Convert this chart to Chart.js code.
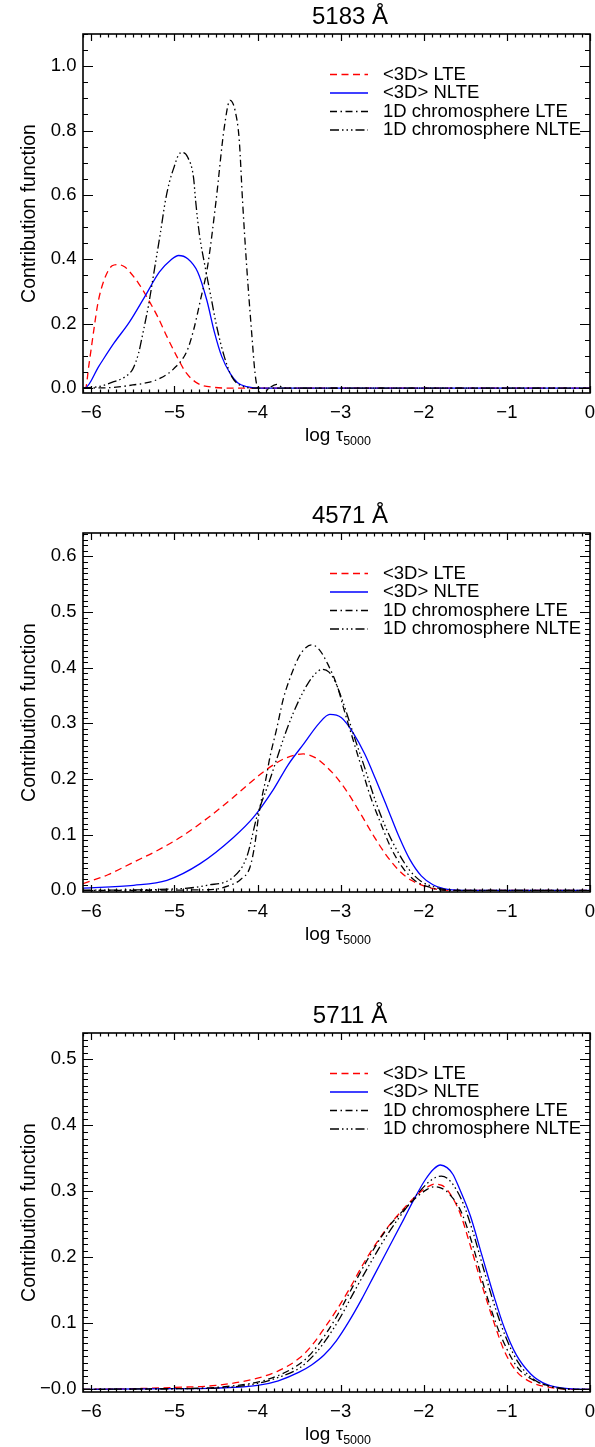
<!DOCTYPE html>
<html>
<head>
<meta charset="utf-8">
<script src="https://cdn.jsdelivr.net/npm/chart.js@4.4.0/dist/chart.umd.min.js"></script>
<style>
  body { margin: 0; background: #fff; }
  #wrap { position: relative; width: 595px; height: 1447px; }
  #wrap canvas { position: absolute; left: 0; }
</style>
</head>
<body>
<div id="wrap">
  <canvas id="c5183" width="595" height="448" style="top:0px"></canvas>
  <canvas id="c4571" width="595" height="448" style="top:499px"></canvas>
  <canvas id="c5711" width="595" height="448" style="top:999px"></canvas>
</div>
<script>
const seriesNames = ['<3D> LTE', '<3D> NLTE', '1D chromosphere LTE', '1D chromosphere NLTE'];
const xTicks = [-6, -5, -4, -3, -2, -1, 0];

// ---- 5183 A ----
const lte3dX_5183 = [-6.1, -6.07, -6.03, -5.97, -5.92, -5.84, -5.75, -5.68, -5.6, -5.54, -5.43, -5.32, -5.2, -5.09, -4.97, -4.86, -4.72, -4.54, -4.27, 0];
const lte3dY_5183 = [0, 0, 0.07, 0.18, 0.265, 0.34, 0.38, 0.384, 0.377, 0.362, 0.325, 0.278, 0.221, 0.16, 0.098, 0.048, 0.015, 0.003, 0, 0];
const nlte3dX_5183 = [-6.1, -6.08, -5.91, -5.73, -5.54, -5.36, -5.18, -5.04, -4.95, -4.84, -4.72, -4.61, -4.52, -4.43, -4.33, -4.24, -4.13, -3.95, 0];
const nlte3dY_5183 = [0, 0, 0.068, 0.139, 0.206, 0.283, 0.361, 0.399, 0.412, 0.402, 0.361, 0.273, 0.175, 0.098, 0.046, 0.017, 0.005, 0, 0];
const lte1dX_5183 = [-6.1, -5.7, -5.5, -5.33, -5.17, -5.01, -4.85, -4.77, -4.69, -4.6, -4.5, -4.4, -4.33, -4.27, -4.22, -4.18, -4.13, -4.07, -4.03, -4.0, -3.93, -3.86, -3.77, -3.68, 0];
const lte1dY_5183 = [0, 0.003, 0.01, 0.017, 0.031, 0.06, 0.115, 0.18, 0.27, 0.38, 0.58, 0.81, 0.894, 0.862, 0.77, 0.58, 0.376, 0.17, 0.046, 0, -0.018, 0, 0.012, 0, 0];
const nlte1dX_5183 = [-6.1, -5.91, -5.73, -5.59, -5.5, -5.43, -5.38, -5.31, -5.24, -5.17, -5.11, -5.06, -5.0, -4.95, -4.9, -4.84, -4.77, -4.745, -4.7, -4.63, -4.56, -4.49, -4.4, -4.31, -4.17, -4.0, 0];
const nlte1dY_5183 = [0, 0.005, 0.02, 0.036, 0.06, 0.11, 0.17, 0.26, 0.37, 0.48, 0.58, 0.64, 0.69, 0.725, 0.732, 0.717, 0.654, 0.582, 0.479, 0.376, 0.283, 0.19, 0.098, 0.036, 0.005, 0, 0];

// ---- 4571 A ----
const lte3dX_4571 = [-6.1, -5.8, -5.5, -5.2, -4.9, -4.6, -4.3, -4.1, -3.9, -3.7, -3.55, -3.45, -3.3, -3.17, -3.05, -2.9, -2.75, -2.6, -2.45, -2.3, -2.15, -2.0, -1.85, -1.7, 0];
const lte3dY_4571 = [0.012, 0.028, 0.05, 0.072, 0.098, 0.13, 0.166, 0.192, 0.216, 0.235, 0.243, 0.245, 0.238, 0.222, 0.203, 0.172, 0.135, 0.097, 0.063, 0.036, 0.018, 0.008, 0.002, 0, 0];
const nlte3dX_4571 = [-6.1, -5.49, -5.09, -4.69, -4.29, -4.05, -3.81, -3.63, -3.44, -3.26, -3.13, -2.99, -2.85, -2.71, -2.58, -2.44, -2.3, -2.17, -2.03, -1.89, -1.76, -1.53, 0];
const nlte3dY_4571 = [0.004, 0.009, 0.018, 0.048, 0.095, 0.131, 0.181, 0.226, 0.264, 0.3, 0.316, 0.31, 0.283, 0.245, 0.2, 0.149, 0.097, 0.056, 0.026, 0.01, 0.003, 0, 0];
const lte1dX_4571 = [-6.1, -4.6, -4.33, -4.2, -4.09, -4.03, -3.99, -3.95, -3.9, -3.85, -3.77, -3.69, -3.6, -3.5, -3.42, -3.35, -3.26, -3.15, -3.03, -2.97, -2.87, -2.76, -2.65, -2.53, -2.4, -2.26, -2.12, -1.94, -1.71, 0];
const lte1dY_4571 = [0, 0.001, 0.009, 0.02, 0.042, 0.085, 0.131, 0.165, 0.2, 0.24, 0.29, 0.344, 0.385, 0.42, 0.436, 0.441, 0.433, 0.405, 0.362, 0.33, 0.28, 0.226, 0.172, 0.125, 0.078, 0.042, 0.019, 0.006, 0, 0];
const nlte1dX_4571 = [-6.1, -4.93, -4.61, -4.29, -4.13, -4.01, -3.97, -3.86, -3.76, -3.67, -3.58, -3.49, -3.4, -3.3, -3.22, -3.14, -3.07, -3.0, -2.92, -2.83, -2.71, -2.58, -2.44, -2.3, -2.17, -2.03, -1.85, -1.62, 0];
const nlte1dY_4571 = [0, 0.003, 0.009, 0.024, 0.06, 0.131, 0.15, 0.195, 0.24, 0.28, 0.315, 0.345, 0.37, 0.39, 0.397, 0.392, 0.376, 0.35, 0.315, 0.273, 0.22, 0.16, 0.107, 0.066, 0.036, 0.016, 0.005, 0, 0];

// ---- 5711 A ----
const lte3dX_5711 = [-6.1, -5.5, -5.0, -4.5, -4.0, -3.75, -3.5, -3.35, -3.2, -3.05, -2.9, -2.7, -2.45, -2.24, -2.07, -1.95, -1.87, -1.78, -1.71, -1.57, -1.44, -1.3, -1.16, -1.03, -0.89, -0.71, -0.48, -0.25, 0];
const lte3dY_5711 = [0, 0.001, 0.003, 0.006, 0.017, 0.028, 0.047, 0.066, 0.092, 0.12, 0.151, 0.196, 0.243, 0.274, 0.296, 0.307, 0.311, 0.309, 0.301, 0.269, 0.218, 0.158, 0.103, 0.058, 0.028, 0.011, 0.003, 0, 0];
const nlte3dX_5711 = [-6.1, -5.0, -4.5, -4.0, -3.75, -3.5, -3.35, -3.2, -3.05, -2.9, -2.75, -2.6, -2.42, -2.24, -2.1, -1.98, -1.88, -1.8, -1.72, -1.65, -1.57, -1.44, -1.3, -1.16, -1.03, -0.89, -0.71, -0.53, -0.25, 0];
const nlte3dY_5711 = [0, 0.001, 0.002, 0.006, 0.013, 0.026, 0.037, 0.052, 0.074, 0.103, 0.136, 0.172, 0.215, 0.258, 0.292, 0.318, 0.334, 0.34, 0.336, 0.326, 0.304, 0.263, 0.203, 0.143, 0.093, 0.053, 0.023, 0.008, 0.001, 0];
const lte1dX_5711 = [-6.1, -5.0, -4.5, -4.0, -3.75, -3.5, -3.35, -3.2, -3.05, -2.9, -2.68, -2.45, -2.24, -2.07, -1.96, -1.88, -1.79, -1.7, -1.55, -1.41, -1.28, -1.14, -1.0, -0.87, -0.71, -0.48, -0.16, 0];
const lte1dY_5711 = [0, 0.001, 0.003, 0.011, 0.021, 0.038, 0.055, 0.08, 0.11, 0.145, 0.196, 0.242, 0.272, 0.293, 0.303, 0.307, 0.305, 0.297, 0.269, 0.218, 0.158, 0.103, 0.061, 0.033, 0.016, 0.005, 0, 0];
const nlte1dX_5711 = [-6.1, -5.0, -4.5, -4.0, -3.75, -3.5, -3.3, -3.15, -3.0, -2.85, -2.64, -2.43, -2.24, -2.07, -1.95, -1.86, -1.79, -1.71, -1.62, -1.52, -1.4, -1.27, -1.13, -1.0, -0.86, -0.7, -0.5, -0.2, 0];
const nlte1dY_5711 = [0, 0.001, 0.002, 0.009, 0.018, 0.032, 0.055, 0.08, 0.11, 0.145, 0.192, 0.236, 0.27, 0.297, 0.313, 0.321, 0.323, 0.319, 0.305, 0.28, 0.235, 0.178, 0.12, 0.075, 0.04, 0.017, 0.005, 0, 0];

const FONT = "'Liberation Sans', Arial, Helvetica, sans-serif";

const lineStyles = [
  { color: '#ff0000', dash: [7, 4.5] },
  { color: '#0000ff', dash: [] },
  { color: '#000000', dash: [7, 3.5, 1.5, 3.5] },
  { color: '#000000', dash: [9, 3, 1.5, 3, 1.5, 3, 1.5, 3] }
];

function pts(xs, ys) {
  return xs.map((x, i) => ({ x: x, y: ys[i] }));
}

function minus(s) {
  return String(s).replace('-', '\u2212');
}

// IDL-like box with inward ticks, title, axis titles and legend
const idlPlot = {
  id: 'idlPlot',
  afterDatasetsDraw(chart) {
    const o = chart.options.plugins.idlPlot;
    const ctx = chart.ctx;
    const a = chart.chartArea;
    const xs = chart.scales.x, ys = chart.scales.y;
    ctx.save();
    ctx.strokeStyle = '#000';
    ctx.lineWidth = 1.2;
    ctx.beginPath();
    for (let k = Math.ceil(xs.min / 0.1 - 1e-6); k * 0.1 <= xs.max + 1e-9; k++) {
      const px = Math.round(xs.getPixelForValue(k * 0.1)) + 0.5;
      const len = (k % 10 === 0) ? 7 : 3.5;
      ctx.moveTo(px, a.bottom); ctx.lineTo(px, a.bottom - len);
      ctx.moveTo(px, a.top); ctx.lineTo(px, a.top + len);
    }
    for (let k = Math.ceil(ys.min / o.yMinor - 1e-6); k * o.yMinor <= ys.max + 1e-9; k++) {
      const py = Math.round(ys.getPixelForValue(k * o.yMinor)) + 0.5;
      const len = (k % o.minorPerMajor === 0) ? 10 : 5;
      ctx.moveTo(a.left, py); ctx.lineTo(a.left + len, py);
      ctx.moveTo(a.right, py); ctx.lineTo(a.right - len, py);
    }
    ctx.stroke();
    ctx.lineWidth = 1.6;
    ctx.strokeRect(a.left, a.top, a.right - a.left, a.bottom - a.top);
    ctx.restore();
  },
  afterDraw(chart) {
    const o = chart.options.plugins.idlPlot;
    const ctx = chart.ctx;
    const a = chart.chartArea;
    ctx.save();
    ctx.fillStyle = '#000';

    // title
    ctx.font = '24px ' + FONT;
    ctx.textAlign = 'center';
    ctx.textBaseline = 'alphabetic';
    ctx.fillText(o.title, 350, 24);

    // x title with subscript
    ctx.font = '19px ' + FONT;
    const w1 = ctx.measureText('log \u03c4').width;
    ctx.font = '12.5px ' + FONT;
    const w2 = ctx.measureText('5000').width;
    const x0 = 338 - (w1 + w2) / 2;
    ctx.textAlign = 'left';
    ctx.font = '19px ' + FONT;
    ctx.fillText('log \u03c4', x0, 441);
    ctx.font = '12.5px ' + FONT;
    ctx.fillText('5000', x0 + w1, 445);

    // y title
    ctx.save();
    ctx.translate(34.5, (a.top + a.bottom) / 2);
    ctx.rotate(-Math.PI / 2);
    ctx.font = '19.5px ' + FONT;
    ctx.textAlign = 'center';
    ctx.fillText('Contribution function', 0, 0);
    ctx.restore();

    // legend
    const rows = [40.5, 59, 77.5, 96];
    chart.data.datasets.forEach((ds, i) => {
      const y = a.top + rows[i];
      ctx.save();
      ctx.strokeStyle = ds.borderColor;
      ctx.lineWidth = 1.3;
      ctx.setLineDash(ds.borderDash);
      ctx.beginPath();
      ctx.moveTo(330, y); ctx.lineTo(368, y);
      ctx.stroke();
      ctx.restore();
      ctx.font = '18.5px ' + FONT;
      ctx.textAlign = 'left';
      ctx.textBaseline = 'middle';
      ctx.fillText(ds.label, 383, y);
    });
    ctx.restore();
  }
};

function makePanel(id, title, series, yMin, yMax, yStep, yMinor, zeroLabel) {
  const datasets = series.map((s, i) => ({
    label: seriesNames[i],
    data: pts(s[0], s[1]),
    borderColor: lineStyles[i].color,
    borderDash: lineStyles[i].dash,
    borderWidth: 1.3,
    pointRadius: 0,
    fill: false,
    cubicInterpolationMode: 'monotone',
    order: 4 - i
  }));
  new Chart(document.getElementById(id), {
    type: 'line',
    data: { datasets: datasets },
    options: {
      responsive: false,
      animation: false,
      devicePixelRatio: 1,
      events: [],
      layout: { padding: { top: 34, right: 5, left: 0, bottom: 0 } },
      plugins: {
        legend: { display: false },
        title: { display: false },
        tooltip: { enabled: false },
        idlPlot: { title: title, yMinor: yMinor, minorPerMajor: Math.round(yStep / yMinor) }
      },
      scales: {
        x: {
          type: 'linear',
          min: -6.1,
          max: 0,
          grid: { display: false, drawTicks: false },
          border: { display: false },
          afterBuildTicks: (s) => { s.ticks = xTicks.map(v => ({ value: v })); },
          ticks: {
            padding: 9,
            color: '#000',
            maxRotation: 0,
            autoSkip: false,
            font: { family: FONT, size: 18.5 },
            callback: (v) => minus(v)
          },
          afterFit: (s) => { s.height = 55; s.paddingLeft = 0; s.paddingRight = 0; }
        },
        y: {
          type: 'linear',
          min: yMin,
          max: yMax,
          grid: { display: false, drawTicks: false },
          border: { display: false },
          ticks: {
            stepSize: yStep,
            includeBounds: false,
            padding: 6.5,
            color: '#000',
            autoSkip: false,
            font: { family: FONT, size: 18.5 },
            callback: (v) => (Math.abs(v) < 1e-9 ? zeroLabel : minus(v.toFixed(1)))
          },
          afterFit: (s) => { s.width = 83; s.paddingTop = 0; s.paddingBottom = 0; }
        }
      }
    },
    plugins: [idlPlot]
  });
}

makePanel('c5183', '5183 \u00c5', [
  [lte3dX_5183, lte3dY_5183],
  [nlte3dX_5183, nlte3dY_5183],
  [lte1dX_5183, lte1dY_5183],
  [nlte1dX_5183, nlte1dY_5183]
], -0.015, 1.1, 0.2, 0.05, '0.0');

makePanel('c4571', '4571 \u00c5', [
  [lte3dX_4571, lte3dY_4571],
  [nlte3dX_4571, nlte3dY_4571],
  [lte1dX_4571, lte1dY_4571],
  [nlte1dX_4571, nlte1dY_4571]
], -0.003, 0.642, 0.1, 0.01, '0.0');

makePanel('c5711', '5711 \u00c5', [
  [lte3dX_5711, lte3dY_5711],
  [nlte3dX_5711, nlte3dY_5711],
  [lte1dX_5711, lte1dY_5711],
  [nlte1dX_5711, nlte1dY_5711]
], -0.004, 0.54, 0.1, 0.01, '\u22120.0');
</script>
</body>
</html>
